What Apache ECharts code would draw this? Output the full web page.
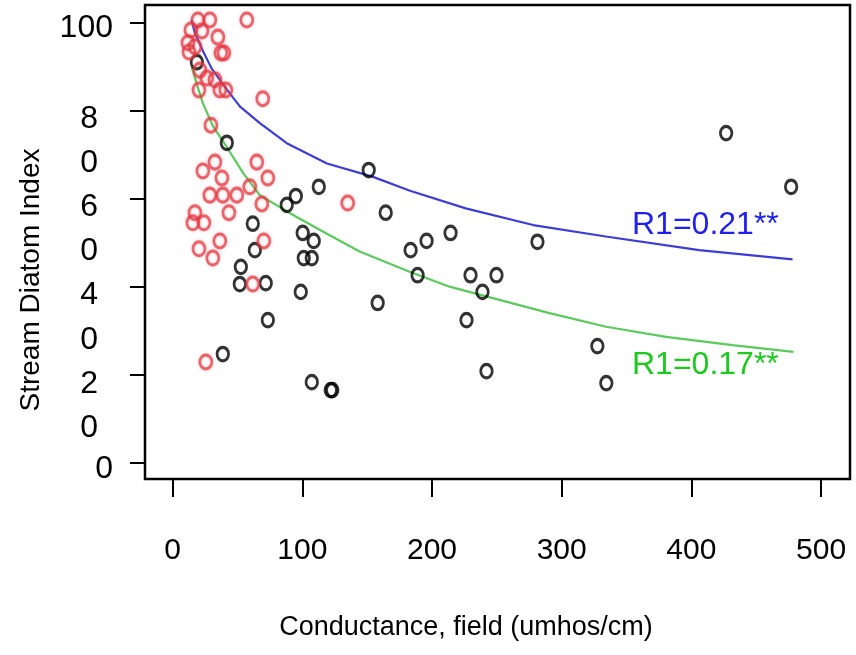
<!DOCTYPE html>
<html><head><meta charset="utf-8">
<script src="https://cdn.jsdelivr.net/npm/echarts@6/dist/echarts.min.js"></script>
<style>html,body{margin:0;padding:0;background:#fff}#c{width:856px;height:655px}</style>
</head><body><div id="c"></div>
<script>
// Black (open) sites
const blackConductance = [18.7, 41.8, 151.2, 112.7, 95.0, 88.0, 164.3, 61.8, 100.3, 108.8, 63.4, 183.5, 195.8, 214.3, 101.1, 107.3, 52.6, 51.8, 71.8, 98.8, 158.1, 188.9, 229.7, 249.7, 238.9, 73.4, 226.6, 327.5, 38.7, 242.0, 107.3, 121.9, 123.1, 334.4, 426.8, 476.9, 281.3];
const blackIndex       = [91.0, 72.7, 66.5, 62.7, 60.6, 58.6, 56.8, 54.3, 52.2, 50.4, 48.3, 48.3, 50.4, 52.2, 46.5, 46.5, 44.5, 40.6, 40.8, 38.8, 36.3, 42.6, 42.6, 42.6, 38.8, 32.4, 32.4, 26.5, 24.7, 20.8, 18.3, 16.5, 16.5, 18.1, 74.9, 62.7, 50.2];
// Red sites
const redConductance = [19.5, 28.7, 57.2, 14.1, 22.6, 34.9, 11.8, 12.6, 17.2, 37.2, 39.5, 21.0, 26.4, 32.6, 20.3, 36.4, 41.0, 69.5, 29.5, 32.6, 64.9, 23.3, 38.0, 73.4, 59.5, 28.7, 38.7, 49.5, 68.8, 135.0, 17.2, 43.4, 15.6, 24.1, 36.4, 70.3, 20.3, 31.0, 61.8, 25.6];
const redIndex       = [100.6, 100.6, 100.6, 98.3, 98.1, 96.7, 95.4, 93.3, 94.5, 93.1, 93.1, 89.2, 87.4, 87.0, 84.7, 84.7, 84.7, 82.7, 76.7, 68.3, 68.3, 66.3, 64.7, 64.7, 62.7, 60.8, 60.8, 60.8, 58.8, 59.0, 56.8, 56.8, 54.5, 54.5, 50.4, 50.4, 48.6, 46.5, 40.6, 22.9];
// Fitted curves
const blueFitX  = [14.6, 17.2, 23.0, 30.0, 42.0, 52.0, 67.0, 88.0, 119.0, 154.0, 183.0, 226.0, 278.0, 334.0, 406.0, 478.0];
const blueFitY  = [100.6, 97.6, 93.8, 89.6, 84.7, 80.9, 77.2, 72.6, 68.0, 65.0, 61.8, 57.8, 54.0, 51.4, 48.3, 46.2];
const greenFitX = [14.6, 18.5, 23.3, 31.2, 41.6, 54.4, 67.2, 92.9, 118.6, 144.2, 182.7, 213.5, 252.0, 290.6, 334.2, 380.4, 431.7, 478.7];
const greenFitY = [90.0, 86.2, 81.7, 76.4, 71.8, 65.8, 60.8, 56.3, 52.1, 48.0, 43.4, 40.0, 37.0, 34.0, 30.9, 28.6, 26.7, 25.2];
// Axis ticks and labels
const xTickValues = [0, 100, 200, 300, 400, 500];
const xTickLabels = ['0', '100', '200', '300', '400', '500'];
const yTickValues = [0, 20, 40, 60, 80, 100];
const yLabelValues = [0, 10, 20, 30, 40, 50, 60, 70, 80, 100];
const yLabelTexts  = ['0', '0', '2', '0', '4', '0', '6', '0', '8', '100'];
const fitLabels = ['R1=0.21**', 'R1=0.17**'];
const xTitle = 'Conductance, field (umhos/cm)';
const yTitle = 'Stream Diatom Index';

const zip = (a, b) => a.map((v, i) => [v, b[i]]);
const FONT = '"Liberation Sans", Arial, sans-serif';

const chart = echarts.init(document.getElementById('c'), null, {renderer: 'canvas'});
chart.setOption({
  animation: false,
  backgroundColor: '#fff',
  grid: {left: 145, right: 6, top: 5, bottom: 176, show: true, borderColor: '#000', borderWidth: 2.5, backgroundColor: 'transparent'},
  xAxis: {
    type: 'value', min: -21.3, max: 522.3,
    axisLine: {show: false, onZero: false}, splitLine: {show: false},
    axisTick: {show: true, inside: false, customValues: xTickValues, length: 18, lineStyle: {color: '#000', width: 2}},
    axisLabel: {customValues: xTickValues, margin: 57, fontSize: 30, color: '#000', fontFamily: FONT,
      formatter: v => xTickLabels[xTickValues.indexOf(v)]},
    name: xTitle, nameLocation: 'middle', nameGap: 135,
    nameTextStyle: {fontSize: 27, color: '#000', fontFamily: FONT, padding: [0, 63, 0, 0]}
  },
  yAxis: {
    type: 'value', min: -3.7, max: 104,
    axisLine: {show: false, onZero: false}, splitLine: {show: false},
    axisTick: {show: true, inside: false, customValues: yTickValues, length: 15, lineStyle: {color: '#000', width: 2}},
    axisLabel: {customValues: yLabelValues, margin: 32, color: '#000', fontFamily: FONT, fontSize: 32,
      formatter: v => {
        const t = yLabelTexts[yLabelValues.indexOf(v)];
        return (v === 0 || v === 100) ? '{b|' + t + '}' : '{s|' + t + '}';
      },
      rich: {
        b: {fontSize: 32, color: '#000', fontFamily: FONT, padding: [12, 0, 0, 0]},
        s: {fontSize: 32, color: '#000', fontFamily: FONT, padding: [18, 15, 0, 0]}
      }},
    name: yTitle, nameLocation: 'middle', nameGap: 100,
    nameTextStyle: {fontSize: 28, color: '#000', fontFamily: FONT, padding: [0, 76, 0, 0]}
  },
  series: [
    {type: 'line', data: zip(blueFitX, blueFitY), showSymbol: false, symbol: 'none', z: 2,
      lineStyle: {color: '#3d3dd4', width: 2.2}},
    {type: 'line', data: zip(greenFitX, greenFitY), showSymbol: false, symbol: 'none', z: 2,
      lineStyle: {color: '#5cc95c', width: 2.2}},
    {type: 'scatter', data: zip(blackConductance, blackIndex), symbol: 'circle', symbolSize: [11.5, 13.5], z: 3,
      itemStyle: {color: 'rgba(0,0,0,0)', borderColor: '#000', borderWidth: 3}},
    {type: 'scatter', data: zip(redConductance, redIndex), symbol: 'circle', symbolSize: [12, 14], z: 4,
      itemStyle: {color: 'rgba(0,0,0,0)', borderColor: 'rgba(226,50,55,0.85)', borderWidth: 2.8,
        shadowBlur: 3, shadowColor: 'rgba(235,90,110,0.7)'}}
  ],
  graphic: [
    {type: 'text', x: 632, y: 225, z: 10, style: {text: fitLabels[0], fill: '#1f1ff2', fontSize: 32, fontFamily: FONT, verticalAlign: 'middle'}},
    {type: 'text', x: 632, y: 365, z: 10, style: {text: fitLabels[1], fill: '#1ec81e', fontSize: 32, fontFamily: FONT, verticalAlign: 'middle'}}
  ]
});
</script></body></html>
